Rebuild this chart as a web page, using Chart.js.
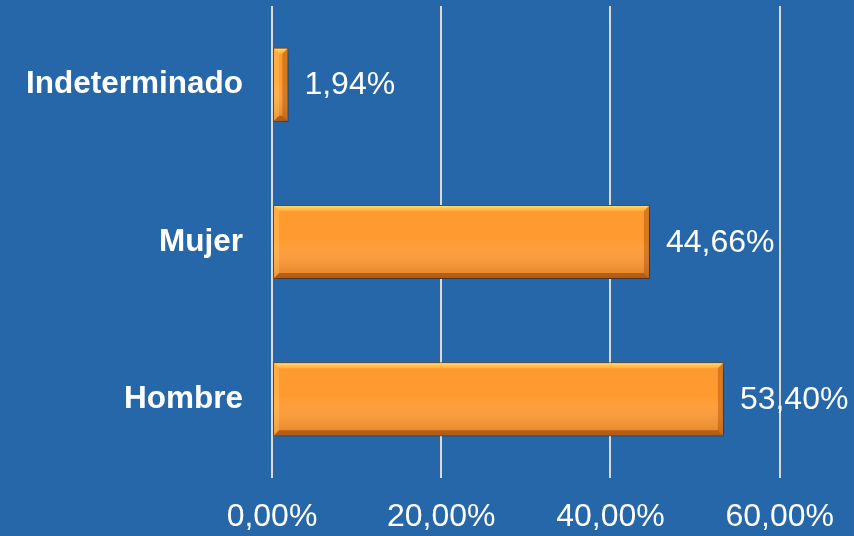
<!DOCTYPE html>
<html>
<head>
<meta charset="utf-8">
<script src="https://cdn.jsdelivr.net/npm/chart.js@4/dist/chart.umd.min.js"></script>
<style>
  html, body { margin: 0; padding: 0; background: #2567a8; }
  #wrap { width: 854px; height: 536px; position: relative; }
</style>
</head>
<body>
<div id="wrap"><canvas id="c" width="854" height="536"></canvas></div>
<script>
const categories = ['Indeterminado', 'Mujer', 'Hombre'];
const porcentajes = [1.94, 44.66, 53.40];
const tickValues = [0, 20, 40, 60];

const fmt = v => v.toFixed(2).replace('.', ',') + '%';

// bevel + shadow look for the bars
const bevelBars = {
    id: 'bevelBars',
    beforeDatasetDraw(chart) {
        const ctx = chart.ctx;
        ctx.save();
        ctx.shadowColor = 'rgba(10,30,70,0.55)';
        ctx.shadowBlur = 7;
        ctx.shadowOffsetX = 3;
        ctx.shadowOffsetY = 4;
    },
    afterDatasetDraw(chart) {
        const ctx = chart.ctx;
        ctx.restore();
        const meta = chart.getDatasetMeta(0);
        meta.data.forEach(bar => {
            const x0 = bar.base, x1 = bar.x;
            const y0 = bar.y - bar.height / 2, y1 = bar.y + bar.height / 2;
            const w = x1 - x0, h = y1 - y0;
            const b = Math.min(6, w / 2);
            ctx.save();
            ctx.beginPath();
            ctx.rect(x0 + 1, y0 + 1, w - 2, h - 2);
            ctx.clip();
            // body shading
            const g = ctx.createLinearGradient(0, y0, 0, y1);
            g.addColorStop(0, 'rgba(255,255,255,0.0)');
            g.addColorStop(0.45, 'rgba(255,255,255,0.0)');
            g.addColorStop(1, 'rgba(170,70,0,0.35)');
            ctx.fillStyle = g;
            ctx.fillRect(x0, y0, w, h);
            // top bevel
            ctx.beginPath();
            ctx.moveTo(x0, y0); ctx.lineTo(x1, y0); ctx.lineTo(x1 - b, y0 + b); ctx.lineTo(x0 + b, y0 + b); ctx.closePath();
            const gt = ctx.createLinearGradient(0, y0, 0, y0 + b);
            gt.addColorStop(0, 'rgba(255,235,120,1)');
            gt.addColorStop(1, 'rgba(255,190,80,0.5)');
            ctx.fillStyle = gt; ctx.fill();
            // bottom bevel
            ctx.beginPath();
            ctx.moveTo(x0, y1); ctx.lineTo(x1, y1); ctx.lineTo(x1 - b, y1 - b); ctx.lineTo(x0 + b, y1 - b); ctx.closePath();
            ctx.fillStyle = 'rgba(130,55,0,0.5)'; ctx.fill();
            // right bevel
            ctx.beginPath();
            ctx.moveTo(x1, y0); ctx.lineTo(x1, y1); ctx.lineTo(x1 - b, y1 - b); ctx.lineTo(x1 - b, y0 + b); ctx.closePath();
            ctx.fillStyle = 'rgba(160,70,0,0.4)'; ctx.fill();
            // left bevel
            ctx.beginPath();
            ctx.moveTo(x0, y0); ctx.lineTo(x0, y1); ctx.lineTo(x0 + b, y1 - b); ctx.lineTo(x0 + b, y0 + b); ctx.closePath();
            ctx.fillStyle = 'rgba(255,215,120,0.3)'; ctx.fill();
            ctx.restore();
        });
    }
};

const valueLabels = {
    id: 'valueLabels',
    afterDatasetsDraw(chart) {
        const ctx = chart.ctx;
        const meta = chart.getDatasetMeta(0);
        ctx.save();
        ctx.fillStyle = '#ffffff';
        ctx.font = '32px "Liberation Sans", Arial, sans-serif';
        ctx.textAlign = 'left';
        ctx.textBaseline = 'middle';
        meta.data.forEach((bar, i) => {
            ctx.fillText(fmt(porcentajes[i]), bar.x + 16, bar.y + 1);
        });
        ctx.restore();
    }
};

new Chart(document.getElementById('c'), {
    type: 'bar',
    data: {
        labels: categories,
        datasets: [{
            data: porcentajes,
            backgroundColor: '#ff9a30',
            borderColor: '#84460f',
            borderWidth: 1,
            borderSkipped: false,
            barPercentage: 0.47,
            categoryPercentage: 1
        }]
    },
    options: {
        indexAxis: 'y',
        responsive: false,
        animation: false,
        layout: { padding: { left: 25, right: 72, top: 6, bottom: 0 } },
        plugins: { legend: { display: false }, tooltip: { enabled: false } },
        scales: {
            x: {
                min: 0, max: 60,
                afterBuildTicks: s => { s.ticks = tickValues.map(v => ({ value: v })); },
                afterFit: s => { s.height = 58; },
                grid: { color: '#d9d9d9', lineWidth: 2, drawTicks: false },
                border: { display: false },
                ticks: {
                    color: '#ffffff',
                    padding: 20,
                    maxRotation: 0,
                    font: { family: '"Liberation Sans", Arial, sans-serif', size: 32 },
                    callback: v => fmt(v)
                }
            },
            y: {
                afterFit: s => { s.width = 247; s.paddingTop = 0; s.paddingBottom = 0; },
                grid: { display: false, drawTicks: false },
                border: { display: false },
                ticks: {
                    color: '#ffffff',
                    padding: 29,
                    font: { family: '"Liberation Sans", Arial, sans-serif', size: 31.5, weight: 'bold' }
                }
            }
        }
    },
    plugins: [bevelBars, valueLabels]
});
</script>
</body>
</html>
